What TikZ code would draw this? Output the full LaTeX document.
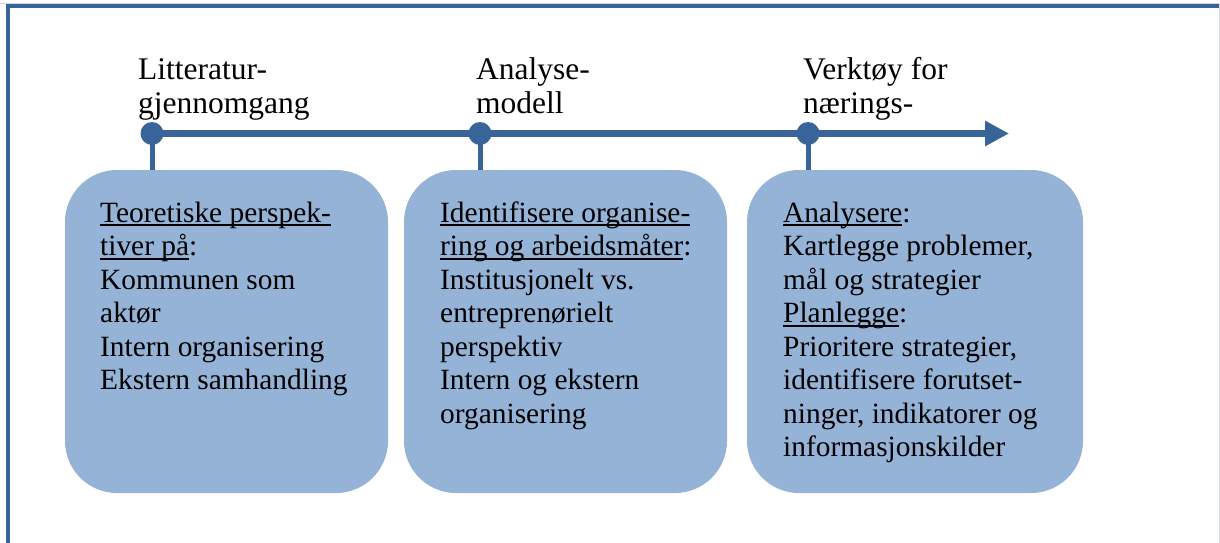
\documentclass[tikz,border=0pt]{standalone}
\usepackage{fontspec}
\setmainfont{Liberation Serif}
\usetikzlibrary{arrows.meta}

\definecolor{lineblue}{HTML}{38649A}
\definecolor{boxblue}{HTML}{95B3D7}
\definecolor{edgegrey}{HTML}{D3DAE5}

% underline drawn through descenders, as a word processor does
\newsavebox{\wulbox}
\newcommand{\wul}[1]{\sbox{\wulbox}{#1}\rlap{\rule[-4pt]{\wd\wulbox}{2pt}}\usebox{\wulbox}}

% multi-line nodes sit on the baseline of their last line
\tikzset{
  phase/.style={font=\fontsize{31.5}{34.3}\selectfont, align=left, anchor=base west, inner sep=0pt},
  boxtext/.style={font=\fontsize{29.4}{33.5}\selectfont, align=left, anchor=base west, inner sep=0pt},
  stagebox/.style={fill=boxblue, draw=none, rounded corners=52pt, inner sep=0pt,
                   minimum height=323pt},
  dot/.style={circle, fill=lineblue, inner sep=0pt, minimum size=23pt},
  stem/.style={draw=lineblue, line width=5pt},
  axis/.style={draw=lineblue, line width=7pt, -{Triangle[length=24pt,width=24pt]}},
}

\begin{document}
\begin{tikzpicture}[x=1pt, y=-1pt]
\useasboundingbox (0,0) rectangle (1220,543);

% frame
\draw[edgegrey, line width=1pt] (0,3.5) -- (1219,3.5) -- (1219,543);
\draw[lineblue, line width=4pt] (8,543) -- (8,6.5) -- (1219,6.5);

% stage boxes
\node[stagebox, minimum width=323pt] (b1) at (226.5,331.5) {};
\node[stagebox, minimum width=323pt] (b2) at (565.5,331.5) {};
\node[stagebox, minimum width=336pt] (b3) at (915,331.5) {};

% timeline
\node[dot] (d1) at (152,133.5) {};
\node[dot] (d2) at (480,133.5) {};
\node[dot] (d3) at (808,133.5) {};
\coordinate (tip) at (1009,133.5);
\draw[stem] (d1.center) -- (d1.center |- b1.north);
\draw[stem] (d2.center) -- (d2.center |- b2.north);
\draw[stem] (d3.center) -- (d3.center |- b3.north);
\draw[axis] (d1.center) -- (d2.center) -- (d3.center) -- (tip);

% phase labels
\node[phase] (p1) at (138,113.3) {Litteratur-\\gjennomgang};
\node[phase] (p2) at (476,113.3) {Analyse-\\modell};
\node[phase] (p3) at (803,113.3) {Verktøy for\\nærings-};

% box contents
\node[boxtext] (t1) at (100,389.5) {\wul{Teoretiske perspek-}\\\wul{tiver på}:\\Kommunen som\\aktør\\Intern organisering\\Ekstern samhandling};
\node[boxtext] (t2) at (440,423) {\wul{Identifisere organise-}\\\wul{ring og arbeidsmåter}:\\Institusjonelt vs.\\entreprenørielt\\perspektiv\\Intern og ekstern\\organisering};
\node[boxtext] (t3) at (783,456.5) {\wul{Analysere}:\\Kartlegge problemer,\\mål og strategier\\\wul{Planlegge}:\\Prioritere strategier,\\identifisere forutset-\\ninger, indikatorer og\\informasjonskilder};
\end{tikzpicture}
\end{document}
